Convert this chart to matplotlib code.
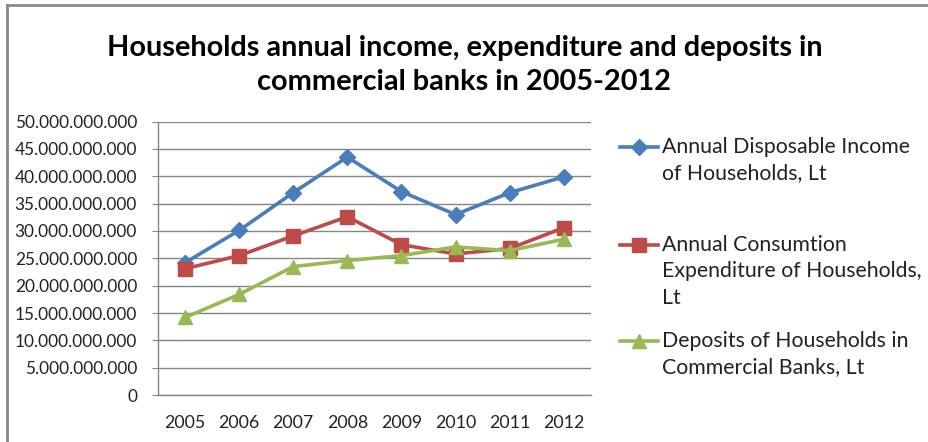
import matplotlib
matplotlib.use('Agg')
import matplotlib.pyplot as plt
from matplotlib.lines import Line2D
from matplotlib.ticker import FuncFormatter, MultipleLocator

plt.rcParams['font.family'] = ['Lato', 'DejaVu Sans']

# Lithuanian household statistics, litas
years = [2005, 2006, 2007, 2008, 2009, 2010, 2011, 2012]
income = [24.2e9, 30.1e9, 37.0e9, 43.5e9, 37.2e9, 33.0e9, 37.0e9, 39.9e9]
expenditure = [23.1e9, 25.5e9, 29.1e9, 32.6e9, 27.5e9, 25.8e9, 26.8e9, 30.6e9]
deposits = [14.2e9, 18.4e9, 23.5e9, 24.6e9, 25.5e9, 27.1e9, 26.4e9, 28.5e9]

labels = [
    'Annual Disposable Income\nof Households, Lt',
    'Annual Consumtion\nExpenditure of Households,\nLt',
    'Deposits of Households in\nCommercial Banks, Lt',
]
colors = ['#4A7EBB', '#BE4B48', '#98B954']
markers = ['D', 's', '^']
msizes = [8, 10, 10]

fig = plt.figure(figsize=(9.29, 4.42), dpi=100)
fig.patch.set_facecolor('white')
ax = fig.add_axes([0.170, 0.106, 0.466, 0.619])

x = list(range(len(years)))
for vals, c, m, ms in zip([income, expenditure, deposits], colors, markers, msizes):
    ax.plot(x, vals, color=c, linewidth=2.6, marker=m, markersize=ms,
            markeredgecolor=c, markerfacecolor=c)

ax.set_xlim(-0.5, len(years) - 0.5)
ax.set_ylim(0, 50e9)
ax.yaxis.set_major_locator(MultipleLocator(5e9))
ax.yaxis.set_major_formatter(
    FuncFormatter(lambda v, p: '{:,.0f}'.format(v).replace(',', '.')))
ax.set_xticks(x)
ax.set_xticklabels([str(y) for y in years])
ax.grid(True, axis='y', color='#868686', linewidth=1)
ax.set_axisbelow(True)
for s in ['top', 'right']:
    ax.spines[s].set_visible(False)
for s in ['left', 'bottom']:
    ax.spines[s].set_color('#868686')
    ax.spines[s].set_linewidth(1)
ax.tick_params(axis='y', length=4, color='#868686', pad=11, labelsize=12.4,
               labelcolor='#222222')
ax.tick_params(axis='x', length=0, pad=14, labelsize=12.8, labelcolor='#222222')

fig.text(0.5, 0.853, 'Households annual income, expenditure and deposits in\n'
         'commercial banks in 2005-2012', ha='center', va='center',
         fontsize=20.8, fontweight='bold', linespacing=1.38)

# legend drawn at the right side, handle aligned with the first text line
W, H = 929.0, 442.0
legend_y = [147, 245, 341]
for lab, c, m, ms, yy in zip(labels, colors, markers, msizes, legend_y):
    fy = 1 - yy / H
    fig.add_artist(Line2D([620 / W, 658 / W], [fy, fy], color=c, linewidth=2.6,
                          transform=fig.transFigure))
    fig.add_artist(Line2D([639 / W], [fy], color=c, marker=m, markersize=ms,
                          transform=fig.transFigure))
    fig.text(662 / W, fy + 10 / H, lab, ha='left', va='top', fontsize=15.3,
             color='#222222', linespacing=1.4)

# chart frame
fig.add_artist(Line2D([7 / W, 7 / W], [0, 1 - 5 / H], color='#888888',
                      linewidth=2, transform=fig.transFigure))
fig.add_artist(Line2D([7 / W, 1], [1 - 5 / H, 1 - 5 / H], color='#888888',
                      linewidth=2, transform=fig.transFigure))

fig.savefig('out.png', dpi=100)
